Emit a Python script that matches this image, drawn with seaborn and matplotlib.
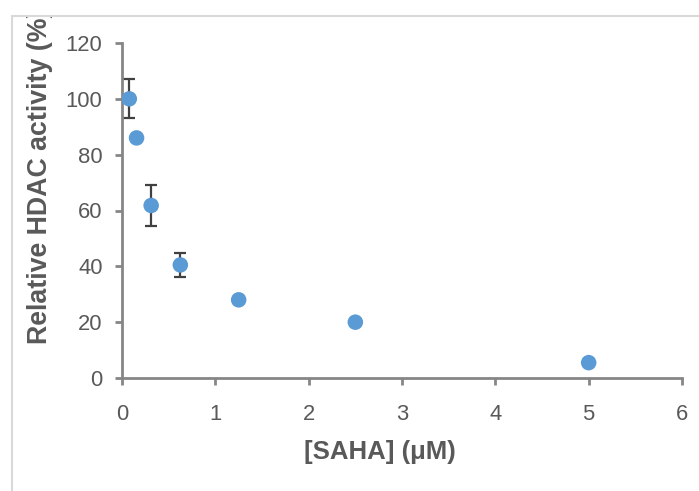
import matplotlib
matplotlib.use("Agg")
import matplotlib.pyplot as plt
import seaborn as sns
import pandas as pd
from matplotlib.patches import Rectangle

saha_um = [0.078, 0.156, 0.3125, 0.625, 1.25, 2.5, 5.0]
activity = [100.0, 86.0, 61.8, 40.5, 28.0, 20.0, 5.5]
err = [7.0, 0.0, 7.4, 4.3, 0.0, 0.0, 0.0]
x_ticks = [0, 1, 2, 3, 4, 5, 6]
y_ticks = [0, 20, 40, 60, 80, 100, 120]

df = pd.DataFrame({"x": saha_um, "y": activity, "err": err})

sns.set_theme(style="white")
plt.rcParams["font.family"] = ["Liberation Sans", "DejaVu Sans"]

W, H = 699, 491
fig = plt.figure(figsize=(W / 100, H / 100), dpi=100)
fig.patch.set_facecolor("white")

# outer chart frame
frame = Rectangle((12 / W, -0.1), 1.2, (H - 16) / H + 0.1, transform=fig.transFigure,
                  fill=False, edgecolor="#D9D9D9", linewidth=1.5)
fig.add_artist(frame)

ax = fig.add_axes([122 / W, (H - 378) / H, (682 - 122) / W, (378 - 43) / H])

eb = df[df["err"] > 0]
ax.errorbar(eb["x"], eb["y"], yerr=eb["err"], fmt="none", ecolor="#404040",
            elinewidth=1.6, capsize=4.5, capthick=1.6, zorder=2)
sns.scatterplot(data=df, x="x", y="y", ax=ax, color="#5B9BD5", s=125,
                edgecolor="none", linewidth=0, zorder=3)

ax.set_xlim(0, 6)
ax.set_ylim(0, 120)
ax.set_xticks(x_ticks)
ax.set_yticks(y_ticks)
ax.set_xticklabels([str(t) for t in x_ticks])
ax.set_yticklabels([str(t) for t in y_ticks])

for side in ["top", "right"]:
    ax.spines[side].set_visible(False)
for side in ["left", "bottom"]:
    ax.spines[side].set_color("#868686")
    ax.spines[side].set_linewidth(2.0)

ax.tick_params(axis="both", which="major", direction="out", length=5, width=2.0,
               color="#868686", labelcolor="#595959", labelsize=15.8)
ax.tick_params(axis="x", pad=14, bottom=True)
ax.tick_params(axis="y", pad=9, left=True)

ax.set_xlabel("[SAHA] (\u03bcM)", fontsize=18.5, fontweight="bold", color="#595959")
ax.set_ylabel("Relative HDAC activity (%)", fontsize=19.3, fontweight="bold", color="#595959")
ax.xaxis.set_label_coords(0.46, -0.185)
ax.yaxis.set_label_coords(-0.123, 0.601)

clip = Rectangle((12, 0), W, H - 16, transform=None)
ax.yaxis.label.set_clip_on(True)
ax.yaxis.label.set_clip_path(clip)

fig.savefig("out.png", dpi=100, facecolor="white")
